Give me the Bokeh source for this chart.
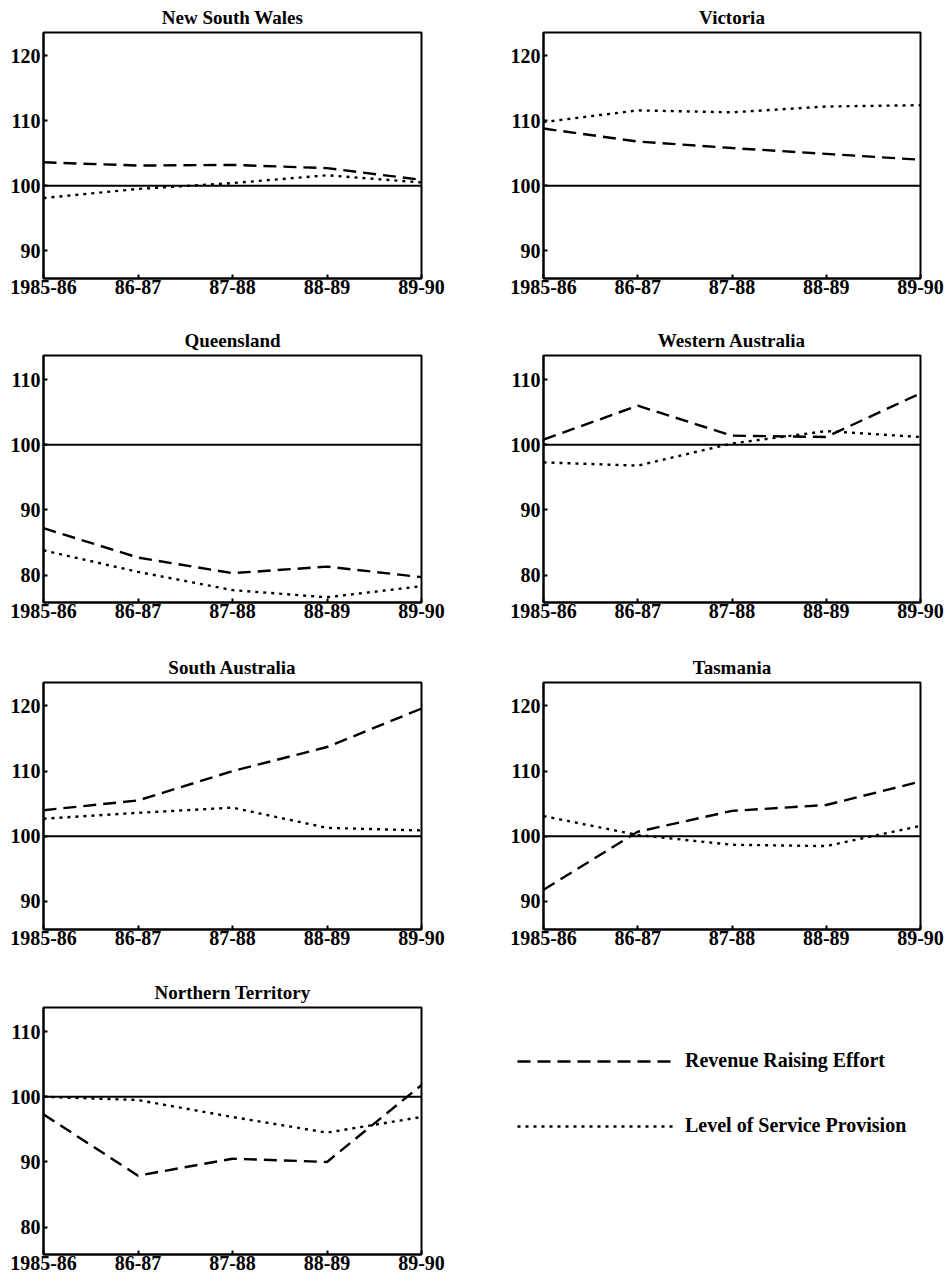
from bokeh.plotting import figure
from bokeh.models import Range1d, FixedTicker, Span, Legend, LegendItem
from bokeh.layouts import column, row
from bokeh.embed import file_html
from bokeh.resources import INLINE

# ---------------- data ----------------
years = ["1985-86", "86-87", "87-88", "88-89", "89-90"]

nsw_revenue = [103.6, 103.1, 103.2, 102.7, 100.9]
nsw_service = [98.1, 99.5, 100.4, 101.6, 100.5]

vic_revenue = [108.8, 106.8, 105.8, 104.9, 104.0]
vic_service = [109.8, 111.6, 111.3, 112.2, 112.4]

qld_revenue = [87.2, 82.7, 80.3, 81.3, 79.7]
qld_service = [83.8, 80.5, 77.7, 76.6, 78.3]

wa_revenue = [100.8, 106.0, 101.4, 101.2, 107.9]
wa_service = [97.3, 96.8, 100.2, 102.1, 101.2]

sa_revenue = [104.0, 105.5, 110.0, 113.7, 119.6]
sa_service = [102.7, 103.6, 104.4, 101.3, 100.9]

tas_revenue = [91.8, 100.7, 103.9, 104.8, 108.4]
tas_service = [103.1, 100.2, 98.7, 98.5, 101.6]

nt_revenue = [97.3, 87.9, 90.5, 90.0, 101.8]
nt_service = [100.0, 99.5, 96.9, 94.5, 96.9]

baseline = 100
range_high = (85.7, 123.6)
range_low = (75.8, 113.7)
ticks_high = [90, 100, 110, 120]
ticks_low = [80, 90, 100, 110]

label_revenue = "Revenue Raising Effort"
label_service = "Level of Service Provision"

# ---------------- styling ----------------
FONT = "Liberation Serif"
REV_DASH = "13 7"
SRV_DASH = "3 5"
LW = 2.4

panels = [
    ("New South Wales", nsw_revenue, nsw_service, range_high, ticks_high),
    ("Victoria", vic_revenue, vic_service, range_high, ticks_high),
    ("Queensland", qld_revenue, qld_service, range_low, ticks_low),
    ("Western Australia", wa_revenue, wa_service, range_low, ticks_low),
    ("South Australia", sa_revenue, sa_service, range_high, ticks_high),
    ("Tasmania", tas_revenue, tas_service, range_high, ticks_high),
    ("Northern Territory", nt_revenue, nt_service, range_low, ticks_low),
]

col_borders = [(43, 49, 378), (73, 27, 377)]
row_borders = [(32, 42, 246), (35, 43, 247), (37, 41, 247), (37, 24, 247)]

xs = list(range(len(years)))


def make_panel(i, name, rev, srv, yr, ticks):
    r, c = divmod(i, 2)
    bl, br, fw = col_borders[c]
    bt, bb, fh = row_borders[r]
    p = figure(frame_width=fw, frame_height=fh,
               x_range=Range1d(0, len(years) - 1), y_range=Range1d(*yr),
               output_backend="svg", toolbar_location=None,
               min_border_left=bl, min_border_right=br,
               min_border_top=bt, min_border_bottom=bb,
               title=name)
    p.title.align = "center"
    p.title.text_font = FONT
    p.title.text_font_style = "bold"
    p.title.text_font_size = "19px"
    p.title.text_color = "black"
    p.title.standoff = 9
    p.grid.visible = False
    p.outline_line_color = "black"
    p.outline_line_width = 2
    p.outline_line_alpha = 1

    p.xaxis.ticker = FixedTicker(ticks=xs)
    p.xaxis.major_label_overrides = {i: y for i, y in zip(xs, years)}
    p.yaxis.ticker = FixedTicker(ticks=ticks)
    for ax in (p.xaxis, p.yaxis):
        ax.axis_line_color = "black"
        ax.axis_line_width = 2
        ax.major_tick_in = 4
        ax.major_tick_out = 0
        ax.major_tick_line_width = 2
        ax.major_tick_line_color = "black"
        ax.minor_tick_line_color = None
        ax.major_label_text_font = FONT
        ax.major_label_text_font_style = "bold"
        ax.major_label_text_font_size = "20px"
        ax.major_label_text_color = "black"
    p.xaxis.major_label_standoff = 1
    p.yaxis.major_label_standoff = 3

    p.add_layout(Span(location=baseline, dimension="width",
                      line_color="black", line_width=2))
    p.line(xs, rev, line_color="black", line_width=LW, line_dash=REV_DASH)
    p.line(xs, srv, line_color="black", line_width=LW, line_dash=SRV_DASH)
    return p


figs = [make_panel(i, *pn) for i, pn in enumerate(panels)]

# legend cell
nan = float("nan")
leg = figure(width=477, height=308, x_range=Range1d(0, 1), y_range=Range1d(0, 1),
             x_axis_type=None, y_axis_type=None, min_border=0,
             output_backend="svg", toolbar_location=None)
leg.grid.visible = False
leg.outline_line_color = None
r1 = leg.line(x=[nan, nan], y=[nan, nan], line_color="black", line_width=LW,
              line_dash=REV_DASH)
r2 = leg.line(x=[nan, nan], y=[nan, nan], line_color="black", line_width=LW,
              line_dash=SRV_DASH)
legend = Legend(items=[LegendItem(label=label_revenue, renderers=[r1]),
                       LegendItem(label=label_service, renderers=[r2])],
                location=(47, 117), glyph_width=160, glyph_height=20,
                label_height=20, spacing=42, padding=0, margin=0,
                label_standoff=8, border_line_alpha=0, background_fill_alpha=0,
                label_text_font=FONT, label_text_font_style="bold",
                label_text_font_size="20px", label_text_color="black")
leg.add_layout(legend)
figs.append(leg)

layout = column(row(figs[0], figs[1]), row(figs[2], figs[3]),
                row(figs[4], figs[5]), row(figs[6], figs[7]))

open("out.html", "w").write(file_html(layout, INLINE))
